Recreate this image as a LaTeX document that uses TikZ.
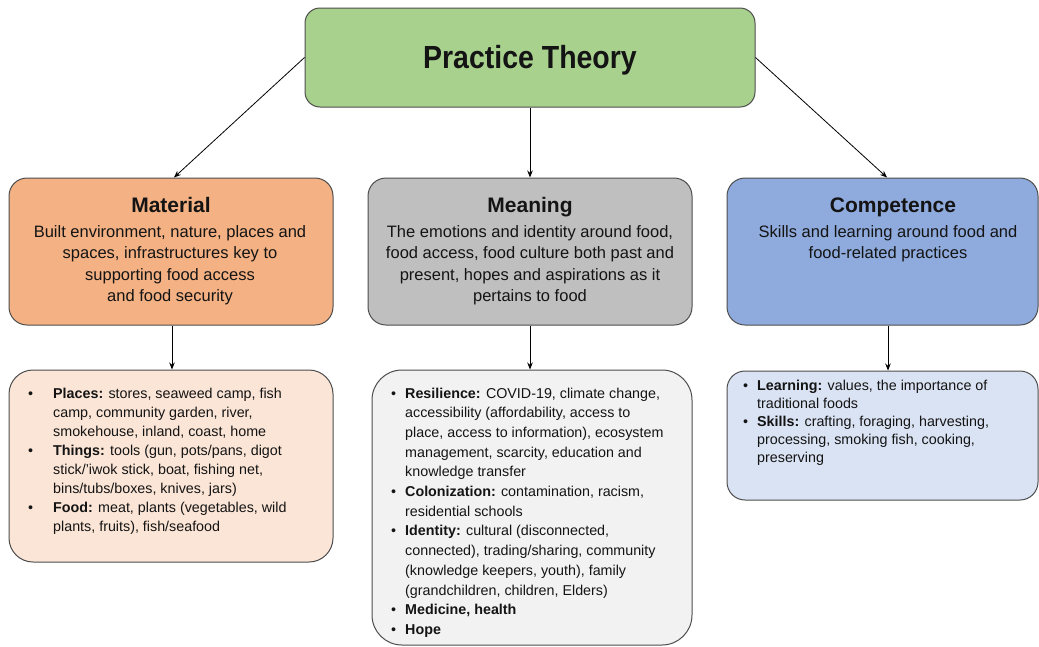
\documentclass[tikz,border=0pt]{standalone}
\usepackage{fontspec}
\setmainfont{Liberation Sans}
\newfontfamily\titlefont[FakeStretch=0.89]{Liberation Sans}
\usetikzlibrary{arrows.meta}

\definecolor{edge}{HTML}{4D4D4D}
\definecolor{ink}{HTML}{141414}
\definecolor{rootfill}{HTML}{A9D18E}
\definecolor{matfill}{HTML}{F4B183}
\definecolor{meanfill}{HTML}{BFBFBF}
\definecolor{compfill}{HTML}{8FAADC}
\definecolor{matlight}{HTML}{FBE5D6}
\definecolor{meanlight}{HTML}{F2F2F2}
\definecolor{complight}{HTML}{DAE3F3}

\begin{document}
\begin{tikzpicture}[x=1pt,y=-1pt,
  panel/.style={draw=edge, line width=1pt, rounded corners=#1, inner sep=0pt},
  label/.style={inner sep=0pt, text=ink},
  heading/.style={label, anchor=base, font=\fontsize{21}{25}\selectfont\bfseries},
  summary/.style={label, anchor=base, font=\fontsize{16.5}{21.5}\selectfont},
  details/.style={label, anchor=base west, font=\fontsize{14.3}{#1}\selectfont},
  link/.style={draw=black, line width=0.8pt, -{Stealth[length=7pt,width=5.5pt]}}
]
\useasboundingbox (0,0) rectangle (1039,646);

% root
\node[panel=15pt, fill=rootfill, minimum width=450pt, minimum height=99pt] (prac) at (530,57.5) {};
\node[label, anchor=base, font=\fontsize{32}{36}\titlefont\bfseries] (pracT) at (530,68) {Practice Theory};

% three element boxes
\node[panel=18pt, fill=matfill, minimum width=324pt, minimum height=147pt] (mat) at (171,251.5) {};
\node[panel=18pt, fill=meanfill, minimum width=324pt, minimum height=147pt] (mean) at (530,251.5) {};
\node[panel=18pt, fill=compfill, minimum width=311pt, minimum height=147pt] (comp) at (882.5,251.5) {};

\node[heading] (matH) at (171,212) {Material};
\node[summary] (matB) at (170,237) {\begin{tabular}[t]{@{}c@{}}
Built environment, nature, places and\\
spaces, infrastructures key to\\
supporting food access\\
and food security\end{tabular}};

\node[heading] (meanH) at (530,212) {Meaning};
\node[summary] (meanB) at (530,237) {\begin{tabular}[t]{@{}c@{}}
The emotions and identity around food,\\
food access, food culture both past and\\
present, hopes and aspirations as it\\
pertains to food\end{tabular}};

\node[heading] (compH) at (893,212) {Competence};
\node[summary] (compB) at (888,237) {\begin{tabular}[t]{@{}c@{}}
Skills and learning around food and\\
food-related practices\end{tabular}};

% detail boxes
\node[panel=24pt, fill=matlight, minimum width=324pt, minimum height=192pt] (matL) at (171,466) {};
\node[panel=30pt, fill=meanlight, minimum width=320pt, minimum height=275pt] (meanL) at (532,507.5) {};
\node[panel=18pt, fill=complight, minimum width=311pt, minimum height=129pt] (compL) at (882.5,435.5) {};

\node[details=19] (matD) at (28,398) {\begin{tabular}[t]{@{}p{25pt}@{}l@{}}
\textbullet & \textbf{Places:} stores, seaweed camp, fish\\
 & camp, community garden, river,\\
 & smokehouse, inland, coast, home\\
\textbullet & \textbf{Things:} tools (gun, pots/pans, digot\\
 & stick/’iwok stick, boat, fishing net,\\
 & bins/tubs/boxes, knives, jars)\\
\textbullet & \textbf{Food:} meat, plants (vegetables, wild\\
 & plants, fruits), fish/seafood\end{tabular}};

\node[details=19.7] (meanD) at (391,398) {\begin{tabular}[t]{@{}p{14pt}@{}l@{}}
\textbullet & \textbf{Resilience:} COVID-19, climate change,\\
 & accessibility (affordability, access to\\
 & place, access to information), ecosystem\\
 & management, scarcity, education and\\
 & knowledge transfer\\
\textbullet & \textbf{Colonization:} contamination, racism,\\
 & residential schools\\
\textbullet & \textbf{Identity:} cultural (disconnected,\\
 & connected), trading/sharing, community\\
 & (knowledge keepers, youth), family\\
 & (grandchildren, children, Elders)\\
\textbullet & \textbf{Medicine, health}\\
\textbullet & \textbf{Hope}\end{tabular}};

\node[details=18] (compD) at (743,390) {\begin{tabular}[t]{@{}p{14pt}@{}l@{}}
\textbullet & \textbf{Learning:} values, the importance of\\
 & traditional foods\\
\textbullet & \textbf{Skills:} crafting, foraging, harvesting,\\
 & processing, smoking fish, cooking,\\
 & preserving\end{tabular}};

% connectors
\draw[link] (prac.west) -- ([xshift=3pt]mat.north);
\draw[link] (prac.south) -- (mean.north);
\draw[link] (prac.east) -- ([xshift=4.5pt]comp.north);
\draw[link] ([xshift=1pt]mat.south) -- ([xshift=1pt]matL.north);
\draw[link] (mean.south) -- (mean.south |- meanL.north);
\draw[link] ([xshift=5.5pt]comp.south) -- ([xshift=5.5pt]compL.north);
\end{tikzpicture}
\end{document}
